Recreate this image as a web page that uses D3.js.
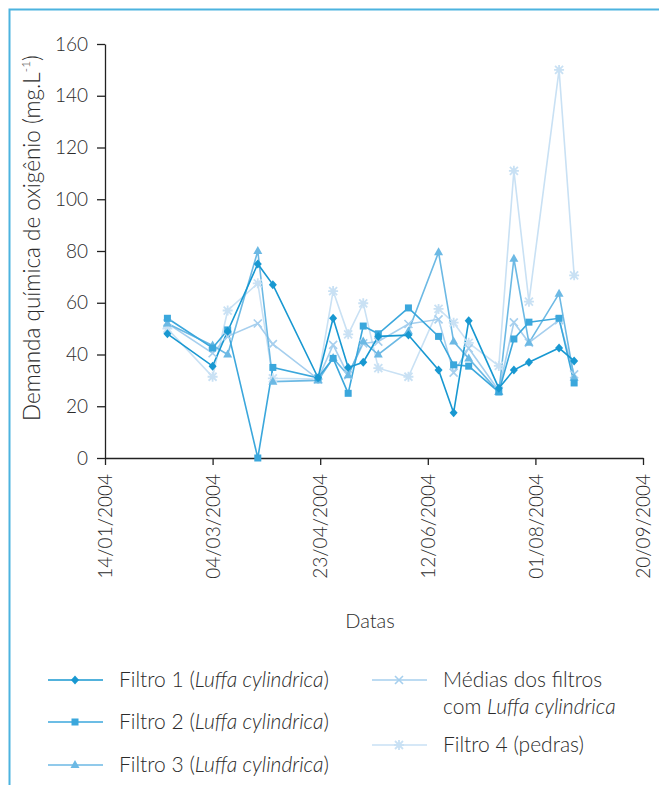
<!DOCTYPE html>
<html lang="pt">
<head>
  <meta charset="UTF-8">
  <title>Demanda química de oxigênio</title>
  <script src="https://cdn.jsdelivr.net/npm/d3@7"></script>
  <style>
    html, body { margin: 0; padding: 0; background: #fff; }
    text { font-family: Lato, "Open Sans", sans-serif; font-weight: 300; fill: #2b2b2b; }
    .axis path, .axis line { stroke: #222; stroke-width: 1.3; }
    .axis text { font-size: 19px; font-family: Lato, sans-serif; font-weight: 300; fill: #2b2b2b; }
    .legend text { font-size: 21px; }
  </style>
</head>
<body>
<svg id="chart" width="659" height="785"></svg>
<script>
  // sample dates (weekly, thursdays)
  const dates = ['2004-02-12', '2004-03-04', '2004-03-11', '2004-03-25', '2004-04-01',
    '2004-04-22', '2004-04-29', '2004-05-06', '2004-05-13', '2004-05-20',
    '2004-06-03', '2004-06-17', '2004-06-24', '2004-07-01', '2004-07-15',
    '2004-07-22', '2004-07-29', '2004-08-12', '2004-08-19']

  const filtro1 = [48, 35.5, 49, 75, 67, 31, 54, 35, 37, 47, 47.5, 34, 17.5, 53, 27, 34, 37, 42.5, 37.5]
  const filtro2 = [54, 42.5, 49.5, 0, 35, 31, 38.5, 25, 51, 48, 58, 47, 36, 35.5, 25.5, 46, 52.5, 54, 29]
  const filtro3 = [52, 43.5, 40, 80, 29.5, 30, 38.6, 32, 45, 40, 49, 79.5, 45, 38.5, 25.5, 77, 44.5, 63.5, 31]
  const medias  = [52, 40.5, 47, 52, 44, 30.5, 43.7, 32, 44.3, 45, 51.8, 53.6, 33, 42.4, 26, 52.4, 44.6, 53.3, 32.3]
  const filtro4 = [50, 31.4, 57, 67.5, 30.8, 30.5, 64.5, 47.8, 59.8, 34.7, 31.4, 57.6, 52.3, 44.5, 35.6, 111, 60.4, 150, 70.6]

  const xTicks = ['2004-01-14', '2004-03-04', '2004-04-23', '2004-06-12', '2004-08-01', '2004-09-20']
  const yTicks = [0, 20, 40, 60, 80, 100, 120, 140, 160]

  const parse = d3.utcParse('%Y-%m-%d')
  const fmt = d3.utcFormat('%d/%m/%Y')

  const series = [
    { name: 'filtro4', values: filtro4, color: '#c9e1f4', marker: 'star' },
    { name: 'medias', values: medias, color: '#a6cfee', marker: 'x' },
    { name: 'filtro3', values: filtro3, color: '#6cb9e4', marker: 'triangle' },
    { name: 'filtro2', values: filtro2, color: '#3ba7dc', marker: 'square' },
    { name: 'filtro1', values: filtro1, color: '#1898d1', marker: 'diamond' }
  ]

  const svg = d3.select('#chart')

  // frame
  svg.append('path')
    .attr('d', 'M9.5,785 L9.5,9.5 L659,9.5')
    .attr('fill', 'none')
    .attr('stroke', '#4cb3df')
    .attr('stroke-width', 2)

  const xScale = d3.scaleUtc()
    .domain([parse(xTicks[0]), parse(xTicks[xTicks.length - 1])])
    .range([105, 643])

  const yScale = d3.scaleLinear()
    .domain([0, 160])
    .range([458, 44])

  // axes
  const xAxis = d3.axisBottom(xScale)
    .tickValues(xTicks.map(parse))
    .tickFormat(fmt)
    .tickSize(7)
    .tickSizeOuter(0)

  const xg = svg.append('g')
    .attr('class', 'axis')
    .attr('transform', `translate(0, ${yScale(0)})`)
    .call(xAxis)

  xg.selectAll('.tick text')
    .attr('transform', 'rotate(-90)')
    .attr('text-anchor', 'end')
    .attr('x', -16)
    .attr('y', 0)
    .attr('dy', '0.35em')

  const yAxis = d3.axisLeft(yScale)
    .tickValues(yTicks)
    .tickSize(8)
    .tickSizeOuter(0)
    .tickPadding(9)

  svg.append('g')
    .attr('class', 'axis')
    .attr('transform', `translate(${xScale.range()[0]}, 0)`)
    .call(yAxis)

  const yTitle = svg.append('text')
    .attr('transform', 'translate(40, 238) rotate(-90)')
    .attr('text-anchor', 'middle')
    .style('font-size', '22.5px')
  yTitle.append('tspan').text('Demanda química de oxigênio (mg.L')
  yTitle.append('tspan').text('-1').style('font-size', '12px').attr('dy', -10)
  yTitle.append('tspan').text(')').attr('dy', 10)

  svg.append('text')
    .attr('x', 370)
    .attr('y', 628)
    .attr('text-anchor', 'middle')
    .style('font-size', '20px')
    .text('Datas')

  // markers
  function drawMarker(g, type, color) {
    if (type === 'diamond') {
      g.append('path').attr('d', 'M0,-4.5 L4,0 L0,4.5 L-4,0 Z').attr('fill', color)
    } else if (type === 'square') {
      g.append('rect').attr('x', -3.5).attr('y', -3.5).attr('width', 7).attr('height', 7).attr('fill', color)
    } else if (type === 'triangle') {
      g.append('path').attr('d', 'M0,-5 L4.5,3 L-4.5,3 Z').attr('fill', color)
    } else if (type === 'x') {
      g.append('path').attr('d', 'M-4,-4 L4,4 M-4,4 L4,-4').attr('stroke', color).attr('stroke-width', 1.6)
    } else if (type === 'star') {
      g.append('path').attr('d', 'M-4,-4 L4,4 M-4,4 L4,-4 M0,-5 L0,5 M-5,0 L5,0')
        .attr('stroke', color).attr('stroke-width', 1.8)
      g.append('circle').attr('r', 2.5).attr('fill', color)
    }
  }

  const line = d3.line()
    .x((d, i) => xScale(parse(dates[i])))
    .y(d => yScale(d))

  series.forEach(s => {
    svg.append('path')
      .attr('d', line(s.values))
      .attr('fill', 'none')
      .attr('stroke', s.color)
      .attr('stroke-width', 1.6)
  })

  series.forEach(s => {
    s.values.forEach((v, i) => {
      const g = svg.append('g')
        .attr('transform', `translate(${xScale(parse(dates[i]))}, ${yScale(v)})`)
      drawMarker(g, s.marker, s.color)
    })
  })

  // legend
  const legendItems = [
    { marker: 'diamond', color: '#1898d1', x: 48, y: 680, lines: [['Filtro 1 (', 'Luffa cylindrica', ')']] },
    { marker: 'square', color: '#3ba7dc', x: 48, y: 722, lines: [['Filtro 2 (', 'Luffa cylindrica', ')']] },
    { marker: 'triangle', color: '#6cb9e4', x: 48, y: 765, lines: [['Filtro 3 (', 'Luffa cylindrica', ')']] },
    { marker: 'x', color: '#a6cfee', x: 372, y: 680, lines: [['Médias dos filtros', '', ''], ['com ', 'Luffa cylindrica', '']] },
    { marker: 'star', color: '#c9e1f4', x: 372, y: 745, lines: [['Filtro 4 (pedras)', '', '']] }
  ]

  const legend = svg.append('g').attr('class', 'legend')
  legendItems.forEach(item => {
    legend.append('line')
      .attr('x1', item.x).attr('x2', item.x + 55)
      .attr('y1', item.y).attr('y2', item.y)
      .attr('stroke', item.color)
      .attr('stroke-width', 1.6)
    const mg = legend.append('g').attr('transform', `translate(${item.x + 27}, ${item.y})`)
    drawMarker(mg, item.marker, item.color)
    item.lines.forEach((parts, li) => {
      const t = legend.append('text')
        .attr('x', item.x + 71)
        .attr('y', item.y + 7 + li * 27)
      t.append('tspan').text(parts[0])
      if (parts[1]) t.append('tspan').style('font-style', 'italic').text(parts[1])
      if (parts[2]) t.append('tspan').text(parts[2])
    })
  })
</script>
</body>
</html>
